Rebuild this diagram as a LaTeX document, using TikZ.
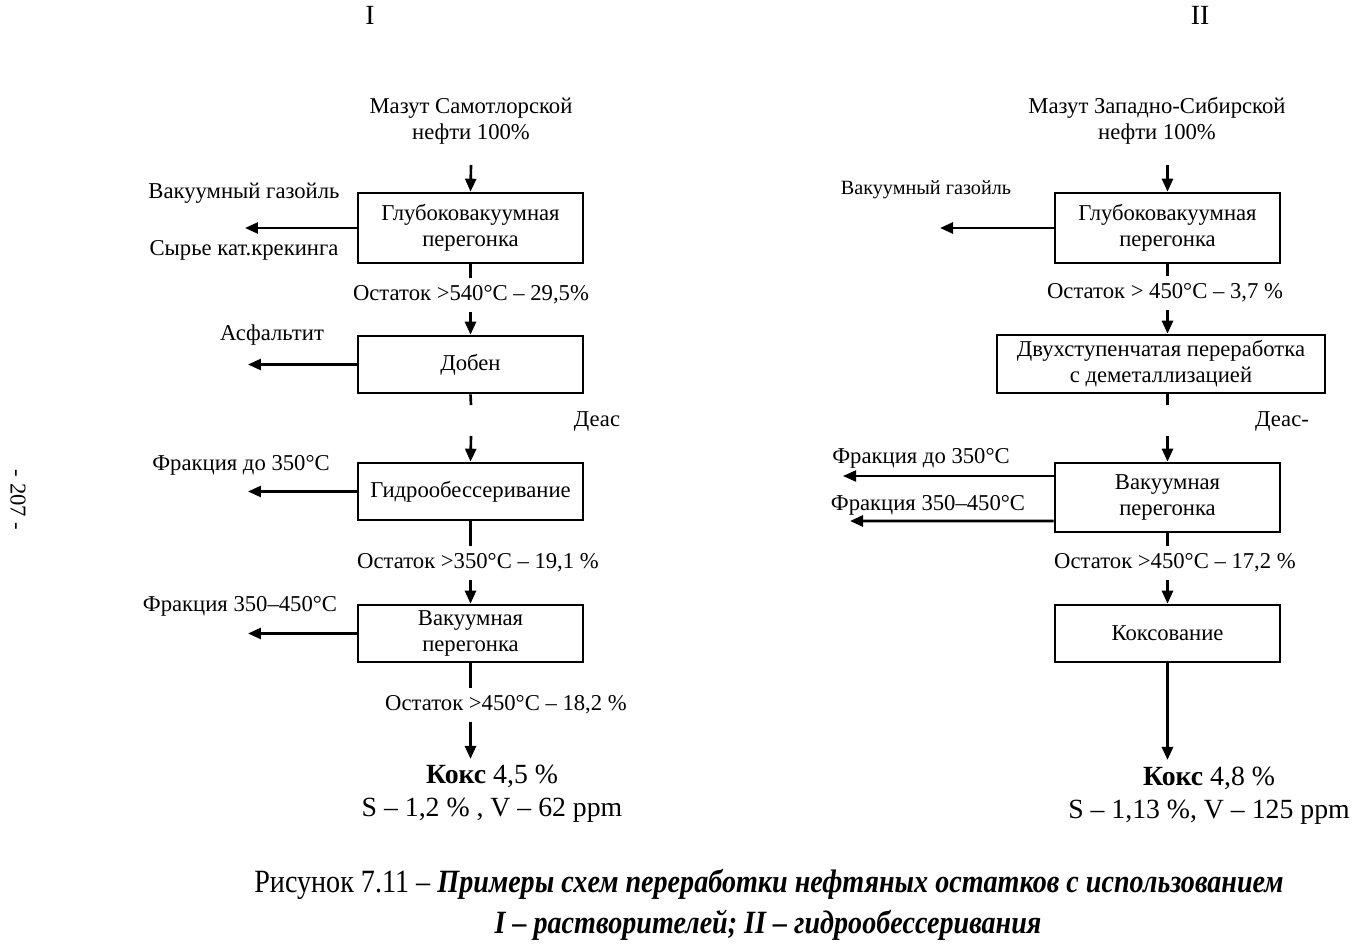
\documentclass[tikz,border=0pt]{standalone}
\usepackage{fontspec}
\setmainfont{Liberation Serif}
\newfontfamily\capfont[FakeStretch=0.865]{Liberation Serif}
\usetikzlibrary{positioning,calc,arrows.meta}

\begin{document}
\begin{tikzpicture}[
    x=0.02cm, y=-0.02cm,
    font=\fontsize{12.9}{14.8}\selectfont,
    >={Triangle[length=0.26cm,width=0.22cm]},
    box/.style={draw, line width=1.5pt, align=center, minimum width=4.5cm, minimum height=1.14cm, inner sep=2pt},
    flow/.style={line width=1.5pt},
    arrow/.style={->, line width=1.5pt},
    lbl/.style={inner sep=0pt, align=center},
    res/.style={inner xsep=0pt, inner ysep=4pt, align=center},
    big/.style={font=\fontsize{15.8}{18.8}\selectfont, align=center, inner sep=0pt}
]
\useasboundingbox (0,0) rectangle (1360,946);

% headings
\node[big] (numI) at (370,15) {I};
\node[big] (numII) at (1200,15) {II};
\node[rotate=-90, inner sep=0pt] (pagenum) at (18,500) {- 207 -};

% scheme I
\node[lbl] (feedL) at (471,121) {Мазут Самотлорской\\нефти 100\%};
\coordinate (inL) at (471,165);
\node[box, minimum height=1.4cm] (vdL) at (470.5,228) {Глубоковакуумная\\перегонка};
\node[lbl] (gasoilL) at (244,193) {Вакуумный газойль};
\node[lbl] (catL) at (244,250) {Сырье кат.крекинга};
\coordinate (outL1) at (245,224);
\node[res] (res1L) at (471,295) {Остаток >540°C – 29,5\%};
\node[box] (dobenL) at (470.5,364.5) {Добен};
\node[lbl] (asphL) at (272,335) {Асфальтит};
\coordinate (outL2) at (248,366);
\coordinate (gap1L) at (471,405);
\coordinate (gap2L) at (471,436);
\node[lbl] (deasL) at (597,421) {Деас};
\node[box] (hdsL) at (470.5,491.5) {Гидрообессеривание};
\node[lbl] (fr1L) at (241,465) {Фракция до 350°C};
\coordinate (outL3) at (248,491);
\node[res] (res2L) at (478,563) {Остаток >350°C – 19,1 \%};
\node[box] (vacL) at (470.5,633.5) {Вакуумная\\перегонка};
\node[lbl] (fr2L) at (240,606) {Фракция 350–450°C};
\coordinate (outL4) at (248,633);
\node[res] (res3L) at (506,705) {Остаток >450°C – 18,2 \%};
\node[big] (cokeL) at (492,794) {\textbf{Кокс} 4,5 \%\\S – 1,2 \% , V – 62 ppm};

\draw[arrow] (inL) -- (vdL.north);
\draw[arrow] (vdL.west) -- (vdL.west -| outL1);
\draw[flow] (vdL.south) -- (vdL.south |- res1L.north);
\draw[arrow] (res1L.south -| dobenL.north) -- (dobenL.north);
\draw[arrow] (dobenL.west) -- (dobenL.west -| outL2);
\draw[flow] (dobenL.south) -- (gap1L);
\draw[arrow] (gap2L) -- (hdsL.north);
\draw[arrow] (hdsL.west) -- (hdsL.west -| outL3);
\draw[flow] (hdsL.south) -- (hdsL.south |- res2L.north);
\draw[arrow] (res2L.south -| vacL.north) -- (vacL.north);
\draw[arrow] (vacL.west) -- (vacL.west -| outL4);
\draw[flow] (vacL.south) -- (vacL.south |- res3L.north);
\draw[arrow, shorten >=0.12cm] (res3L.south -| vacL.south) -- (vacL.south |- cokeL.north);

% scheme II
\node[lbl] (feedR) at (1157,121) {Мазут Западно-Сибирской\\нефти 100\%};
\coordinate (inR) at (1167.5,165);
\node[box, minimum height=1.4cm] (vdR) at (1167.5,228) {Глубоковакуумная\\перегонка};
\node[lbl, font=\fontsize{11.5}{13}\selectfont] (gasoilR) at (926,190) {Вакуумный газойль};
\coordinate (outR1) at (940,222);
\node[res] (res1R) at (1165,293) {Остаток > 450°C – 3,7 \%};
\node[box, minimum width=6.56cm, minimum height=1.16cm] (twoR) at (1161,364) {Двухступенчатая переработка\\с деметаллизацией};
\coordinate (gap1R) at (1167.5,405);
\coordinate (gap2R) at (1167.5,436);
\node[lbl] (deasR) at (1282,421) {Деас-};
\node[box, minimum height=1.38cm] (vac2R) at (1167.5,497.5) {Вакуумная\\перегонка};
\node[lbl] (fr1R) at (921,458) {Фракция до 350°C};
\coordinate (outR2) at (843,476);
\node[lbl] (fr2R) at (928,505) {Фракция 350–450°C};
\coordinate (outR3) at (850,521);
\node[res] (res2R) at (1175,563) {Остаток >450°C – 17,2 \%};
\node[box] (cokR) at (1167.5,633.5) {Коксование};
\node[big] (cokeR) at (1209,796) {\textbf{Кокс} 4,8 \%\\S – 1,13 \%, V – 125 ppm};

\draw[arrow] (inR) -- (vdR.north);
\draw[arrow] (vdR.west) -- (vdR.west -| outR1);
\draw[flow] (vdR.south) -- (vdR.south |- res1R.north);
\draw[arrow] (res1R.south -| vdR.south) -- (vdR.south |- twoR.north);
\draw[flow] (vdR.south |- twoR.south) -- (gap1R);
\draw[arrow] (gap2R) -- (vac2R.north);
\draw[arrow, line width=1.1pt] ($(vac2R.west)+(0,-21.5)$) -- (outR2);
\draw[arrow] ($(vac2R.west)+(0,23.5)$) -- (outR3);
\draw[flow] (vac2R.south) -- (vac2R.south |- res2R.north);
\draw[arrow] (res2R.south -| cokR.north) -- (cokR.north);
\draw[arrow, shorten >=0.14cm] (cokR.south) -- (cokR.south |- cokeR.north);

% caption
\node[inner sep=0pt, font=\capfont\fontsize{18.5}{21}\selectfont] (capline1) at (769,884)
  {Рисунок 7.11 – \textbf{\textit{Примеры схем переработки нефтяных остатков с использованием}}};
\node[inner sep=0pt, font=\capfont\fontsize{18.5}{21}\selectfont] (capline2) at (768,925)
  {\textbf{\textit{I – растворителей; II – гидрообессеривания}}};
\end{tikzpicture}
\end{document}
